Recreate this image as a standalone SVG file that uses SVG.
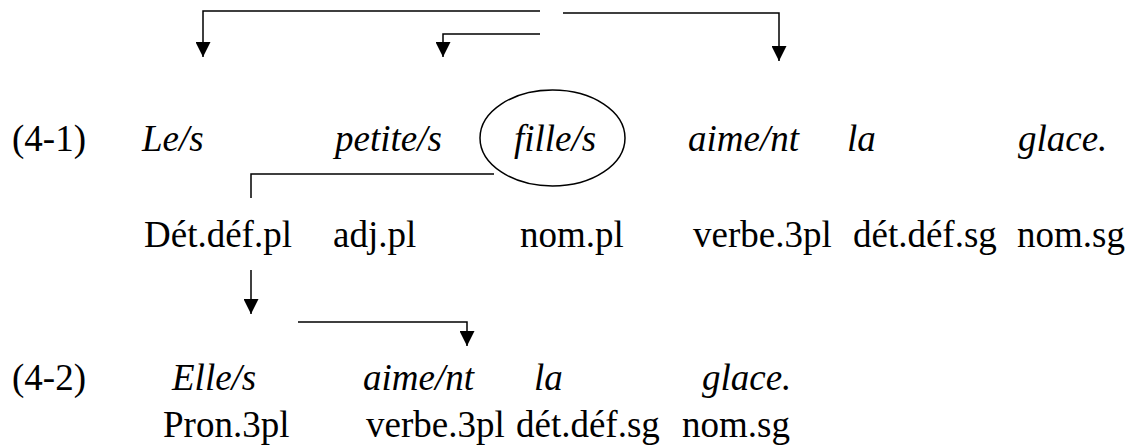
<svg xmlns="http://www.w3.org/2000/svg" width="1130" height="445" viewBox="0 0 1130 445">
<style>
text{font-family:"Liberation Serif","Times New Roman",serif;font-size:37px;fill:#000}
.it{font-style:italic}
.ln{fill:none;stroke:#000;stroke-width:1.5}
</style>
<defs>
<marker id="ah" viewBox="0 0 15 15" refX="15" refY="7.5" markerWidth="15" markerHeight="15" markerUnits="userSpaceOnUse" orient="auto"><path d="M0,0 L15,7.5 L0,15 Z" fill="#000"/></marker>
</defs>
<rect width="1130" height="445" fill="#fff"/>
<g id="connectors">
<path class="ln" d="M540,11 H203 V57" marker-end="url(#ah)"/>
<path class="ln" d="M540,34 H443 V57" marker-end="url(#ah)"/>
<path class="ln" d="M563,13 H779 V61" marker-end="url(#ah)"/>
<path class="ln" d="M494,174 H251 V198"/>
<path class="ln" d="M251,270 V314" marker-end="url(#ah)"/>
<path class="ln" d="M298,322 H467 V346" marker-end="url(#ah)"/>
</g>
<g id="ex41"><text x="12" y="151">(4-1)</text></g>
<g id="w-les"><text class="it" x="142" y="151">Le/s</text></g>
<g id="w-petites"><text class="it" x="335" y="151">petite/s</text></g>
<g id="w-filles"><ellipse class="ln" cx="552.5" cy="138" rx="72.5" ry="48"/><text class="it" x="514" y="151">fille/s</text></g>
<g id="w-aiment1"><text class="it" x="688" y="151">aime/nt</text></g>
<g id="w-la1"><text class="it" x="847" y="151">la</text></g>
<g id="w-glace1"><text class="it" x="1018" y="151">glace.</text></g>
<g id="g-det1"><text x="144" y="247">Dét.déf.pl</text></g>
<g id="g-adj1"><text x="333" y="247">adj.pl</text></g>
<g id="g-nom1"><text x="520" y="247">nom.pl</text></g>
<g id="g-verbe1"><text x="693" y="247">verbe.3pl</text></g>
<g id="g-det2"><text x="853" y="247">dét.déf.sg</text></g>
<g id="g-nomsg1"><text x="1017" y="247">nom.sg</text></g>
<g id="ex42"><text x="12" y="390">(4-2)</text></g>
<g id="w-elles"><text class="it" x="172" y="390">Elle/s</text></g>
<g id="w-aiment2"><text class="it" x="363" y="390">aime/nt</text></g>
<g id="w-la2"><text class="it" x="534" y="390">la</text></g>
<g id="w-glace2"><text class="it" x="702" y="390">glace.</text></g>
<g id="g-pron"><text x="163" y="437">Pron.3pl</text></g>
<g id="g-verbe2"><text x="366" y="437">verbe.3pl</text></g>
<g id="g-det3"><text x="516" y="437">dét.déf.sg</text></g>
<g id="g-nomsg2"><text x="682" y="437">nom.sg</text></g>
</svg>
